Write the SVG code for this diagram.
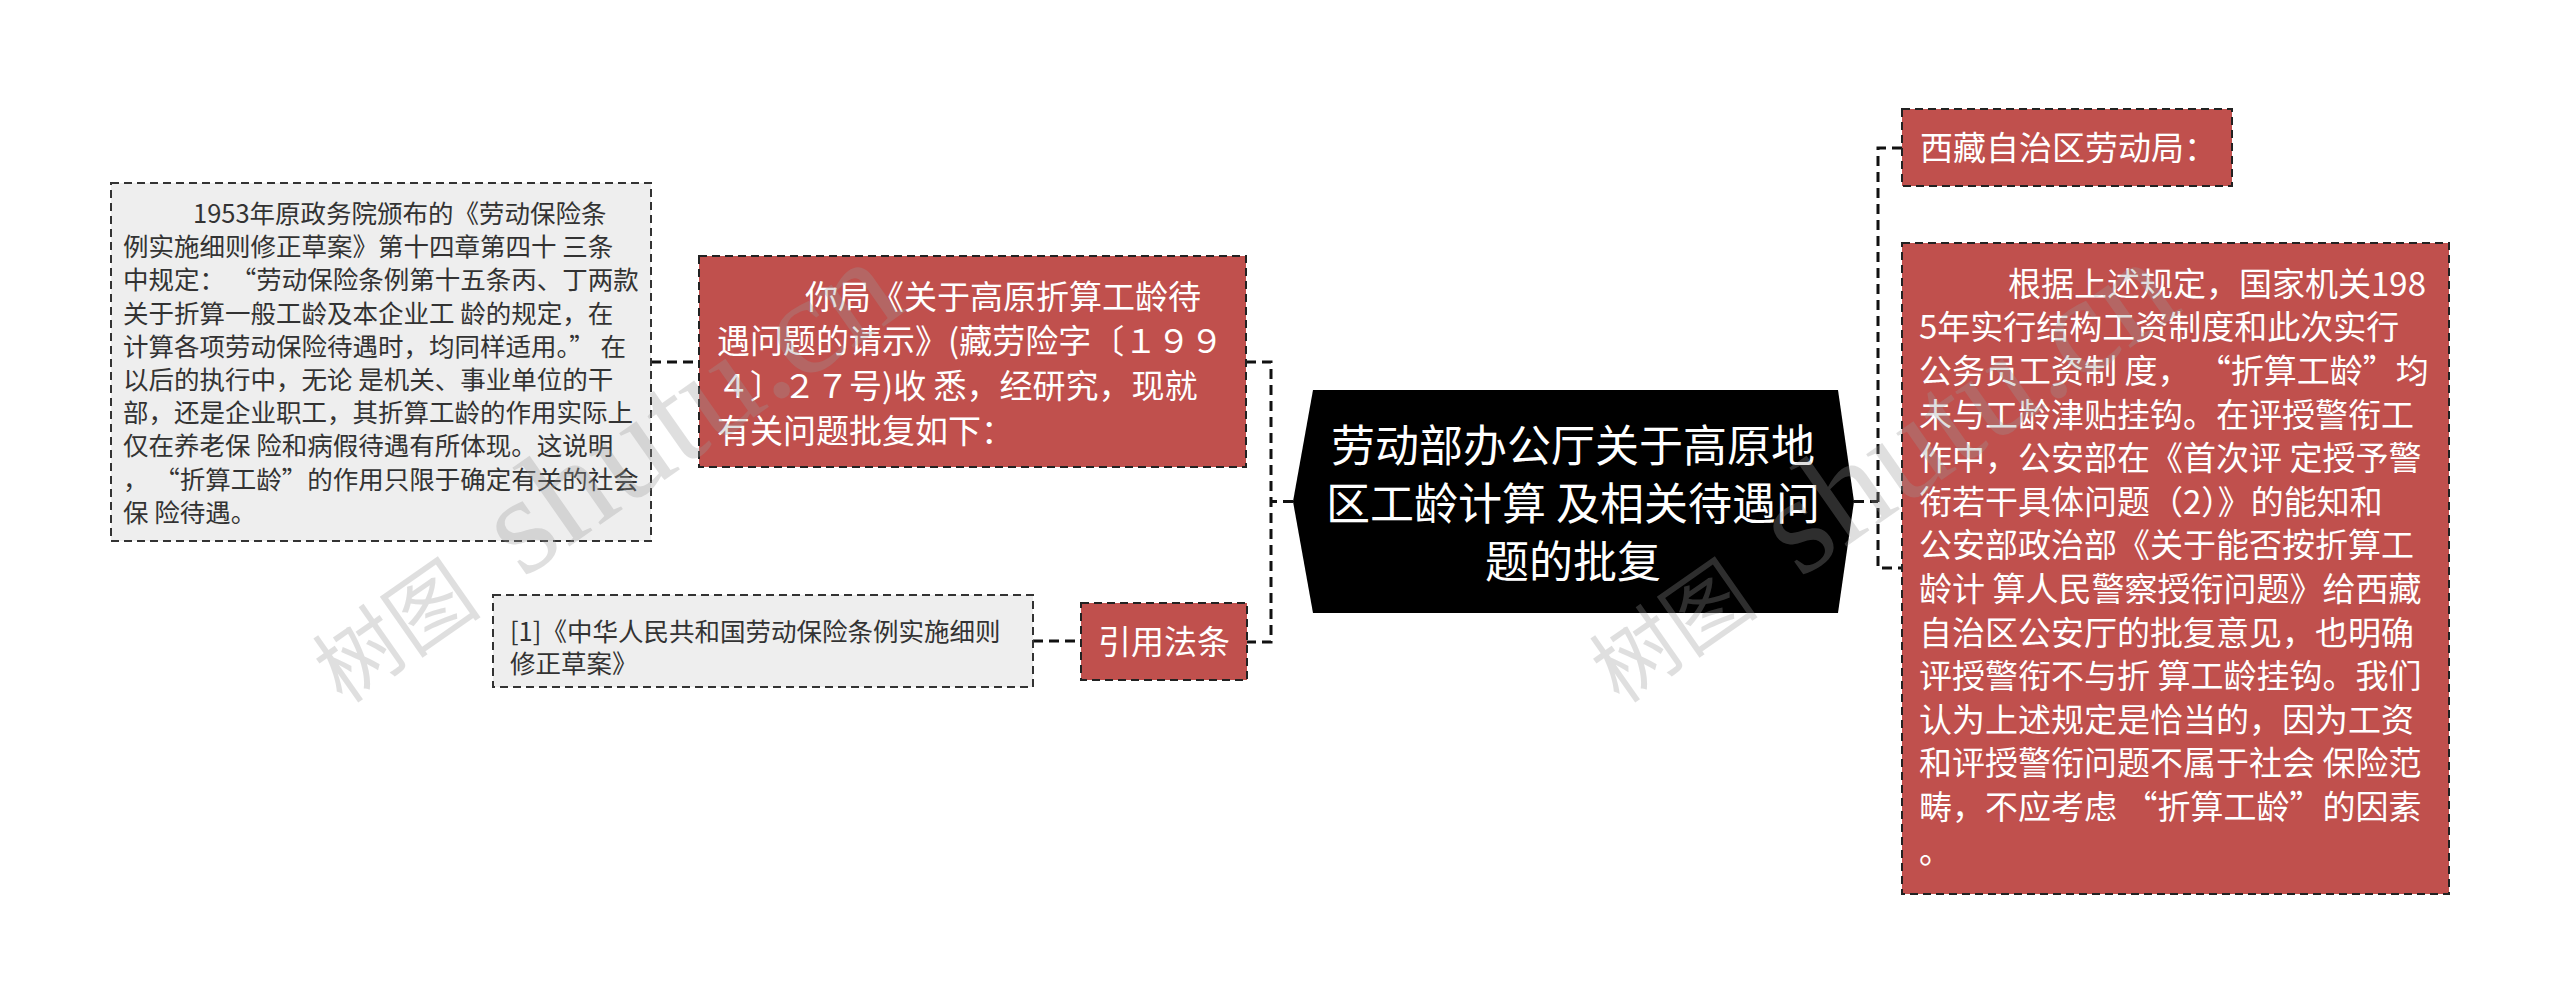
<svg xmlns="http://www.w3.org/2000/svg" width="2560" height="1004" viewBox="0 0 2560 1004">
<style>
.bg{fill:#ffffff}
.gray rect{fill:#eeeeee;stroke:#333333;stroke-width:2;stroke-dasharray:8 5}
.red rect{fill:#c0504d;stroke:#222222;stroke-width:2;stroke-dasharray:8 5}
.gt{font-family:"Noto Sans CJK SC","Noto Sans",sans-serif;font-size:25.5px;fill:#333333}
.rt{font-family:"Noto Sans CJK SC","Noto Sans",sans-serif;font-size:33px;fill:#ffffff}
.ct{font-family:"Noto Sans CJK SC","Noto Sans",sans-serif;font-size:44px;fill:#ffffff;text-anchor:middle}
.conn path{fill:none;stroke:#111111;stroke-width:3;stroke-dasharray:10 6}
.wm{font-family:"Noto Sans CJK SC",sans-serif;font-size:85px;fill:#999999;opacity:0.3}
.wm tspan.l{font-family:"Liberation Serif",serif;font-size:140px}
</style>
<rect class="bg" x="0" y="0" width="2560" height="1004"/>
<g id="connectors" class="conn">
<path d="M651 362 H699"/>
<path d="M1293 501.5 H1271 M1246 362 H1271 V642 H1247"/>
<path d="M1033 641 H1081"/>
<path d="M1854 501.5 H1878 M1902 148 H1878 V568 H1902"/>
</g>
<g id="node-note" class="gray">
<rect x="111" y="183" width="540" height="358"/>
<text class="gt" x="123" y="223"><tspan x="193">1953年原政务院颁布的《劳动保险条</tspan><tspan x="123" dy="33.2">例实施细则修正草案》第十四章第四十 三条</tspan><tspan x="123" dy="33.2">中规定： “劳动保险条例第十五条丙、丁两款</tspan><tspan x="123" dy="33.2">关于折算一般工龄及本企业工 龄的规定，在</tspan><tspan x="123" dy="33.2">计算各项劳动保险待遇时，均同样适用。” 在</tspan><tspan x="123" dy="33.2">以后的执行中，无论 是机关、事业单位的干</tspan><tspan x="123" dy="33.2">部，还是企业职工，其折算工龄的作用实际上</tspan><tspan x="123" dy="33.2">仅在养老保 险和病假待遇有所体现。这说明</tspan><tspan x="123" dy="33.2">， “折算工龄”的作用只限于确定有关的社会</tspan><tspan x="123" dy="33.2">保 险待遇。</tspan></text>
</g>
<g id="node-request" class="red">
<rect x="699" y="256" width="547" height="211"/>
<text class="rt" x="717" y="308.5"><tspan x="805">你局《关于高原折算工龄待</tspan><tspan x="717" dy="44.7">遇问题的请示》(藏劳险字〔１９９</tspan><tspan x="717" dy="44.7">４〕２７号)收 悉，经研究，现就</tspan><tspan x="717" dy="44.7">有关问题批复如下：</tspan></text>
</g>
<g id="node-citation" class="gray">
<rect x="493" y="595" width="540" height="92"/>
<text class="gt" x="510" y="641"><tspan x="510">[1]《中华人民共和国劳动保险条例实施细则</tspan><tspan x="510" dy="31.5">修正草案》</tspan></text>
</g>
<g id="node-law" class="red">
<rect x="1081" y="603" width="166" height="77"/>
<text class="rt" x="1164" y="654" text-anchor="middle">引用法条</text>
</g>
<g id="node-central">
<polygon points="1313,390 1838,390 1854,501.5 1838,613 1313,613 1293,501.5" fill="#000000"/>
<text class="ct" x="1573" y="462"><tspan x="1573">劳动部办公厅关于高原地</tspan><tspan x="1573" dy="58">区工龄计算 及相关待遇问</tspan><tspan x="1573" dy="58">题的批复</tspan></text>
</g>
<g id="node-addressee" class="red">
<rect x="1902" y="109" width="330" height="77"/>
<text class="rt" x="1920" y="160">西藏自治区劳动局：</text>
</g>
<g id="node-reply" class="red">
<rect x="1902" y="243" width="547" height="651"/>
<text class="rt" x="1919" y="295.8"><tspan x="2008">根据上述规定，国家机关198</tspan><tspan x="1919" dy="43.6">5年实行结构工资制度和此次实行</tspan><tspan x="1919" dy="43.6">公务员工资制 度， “折算工龄”均</tspan><tspan x="1919" dy="43.6">未与工龄津贴挂钩。在评授警衔工</tspan><tspan x="1919" dy="43.6">作中，公安部在《首次评 定授予警</tspan><tspan x="1919" dy="43.6">衔若干具体问题（2）》的能知和</tspan><tspan x="1919" dy="43.6">公安部政治部《关于能否按折算工</tspan><tspan x="1919" dy="43.6">龄计 算人民警察授衔问题》给西藏</tspan><tspan x="1919" dy="43.6">自治区公安厅的批复意见，也明确</tspan><tspan x="1919" dy="43.6">评授警衔不与折 算工龄挂钩。我们</tspan><tspan x="1919" dy="43.6">认为上述规定是恰当的，因为工资</tspan><tspan x="1919" dy="43.6">和评授警衔问题不属于社会 保险范</tspan><tspan x="1919" dy="43.6">畴，不应考虑 “折算工龄”的因素</tspan><tspan x="1919" dy="43.6">。</tspan></text>
</g>
<g id="watermark">
<text class="wm" x="343" y="705" transform="rotate(-35 343 705)">树图 <tspan class="l" dx="30">shutu.cn</tspan></text>
<text class="wm" x="1620" y="705" transform="rotate(-35 1620 705)">树图 <tspan class="l" dx="30">shutu.cn</tspan></text>
</g>
</svg>
